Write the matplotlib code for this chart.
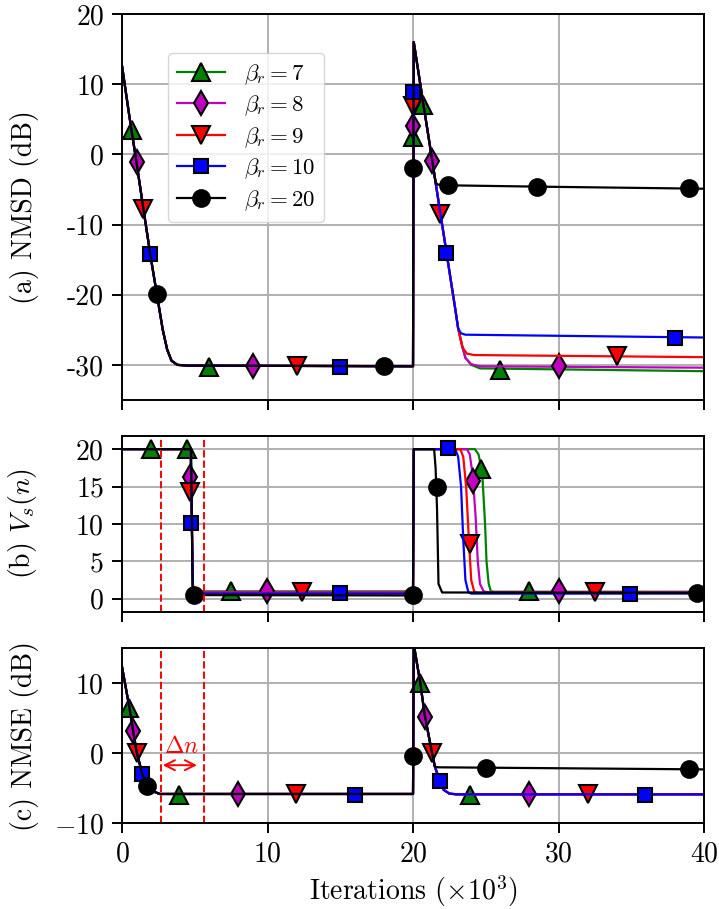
import numpy as np
import matplotlib
matplotlib.use('Agg')
import matplotlib.pyplot as plt

plt.rcParams['font.family'] = 'serif'
plt.rcParams['font.serif'] = ['cmr10']
plt.rcParams['mathtext.fontset'] = 'cm'
plt.rcParams['axes.formatter.use_mathtext'] = True
plt.rcParams['font.size'] = 20
plt.rcParams['axes.linewidth'] = 1.4

# series settings
betas = [7, 8, 9, 10, 20]
colors = ['g', 'm', 'r', 'b', 'k']
markers = ['^', 'd', 'v', 's', 'o']
msizes = [12.5, 12.5, 12.5, 10.5, 12]

# ---- (a) NMSD, line vertices (x in 10^3 iterations, dB)
nmsd_head_x = [0, 0.5, 1.0, 1.5, 2.0, 2.4, 2.8, 3.1, 3.4, 3.8, 4.5, 19.98, 20.0, 20.05,
               20.7, 21.3, 21.55]
nmsd_head_y = [12.6, 5.5, -1.2, -8.2, -15.0, -20.0, -25.0, -27.8, -29.4, -30.0, -30.1, -30.2,
               -30.2, 16.0, 7.3, -0.6, -4.0]
nmsd7_x = [21.85, 22.3, 22.9, 23.1, 23.4, 23.6, 24.0, 24.6, 40]
nmsd7_y = [-8.0, -14.0, -22.0, -24.8, -27.5, -29.0, -30.0, -30.5, -30.9]
nmsd8_x = [21.85, 22.3, 22.9, 23.1, 23.4, 23.6, 24.0, 24.6, 40]
nmsd8_y = [-8.0, -14.0, -22.0, -24.8, -27.5, -29.0, -29.9, -30.2, -30.4]
nmsd9_x = [21.85, 22.3, 22.9, 23.1, 23.4, 23.7, 24.2, 40]
nmsd9_y = [-8.0, -14.0, -22.0, -24.8, -27.5, -28.4, -28.6, -28.9]
nmsd10_x = [21.85, 22.3, 22.9, 23.1, 23.3, 23.6, 40]
nmsd10_y = [-8.0, -14.0, -22.0, -24.8, -25.5, -25.7, -26.1]
nmsd20_x = [21.7, 22.0, 28.5, 40]
nmsd20_y = [-4.3, -4.4, -4.6, -4.9]

# (a) marker positions
nmsd_mk_x = [[0.67, 6.0, 20.0, 20.7, 26.0],
             [1.0, 9.0, 20.0, 21.3, 30.0],
             [1.47, 12.0, 20.0, 21.85, 34.0],
             [1.92, 15.0, 20.0, 22.3, 38.0],
             [2.38, 18.0, 20.0, 22.4, 28.5, 39.0]]
nmsd_mk_y = [[3.5, -30.3, 2.5, 7.0, -30.7],
             [-1.1, -30.2, 4.0, -1.0, -30.2],
             [-7.8, -30.2, 6.9, -8.5, -28.7],
             [-14.2, -30.3, 8.9, -14.0, -26.1],
             [-19.9, -30.2, -2.0, -4.4, -4.6, -4.8]]

# ---- (b) V_s(n)
vs7_x = [0, 4.72, 4.80, 4.88, 5.0, 20.0, 20.05, 24.25, 24.5, 24.75, 24.95, 25.05, 25.2, 25.35, 25.6, 40]
vs7_y = [20, 20, 10, 1.2, 1.0, 1.0, 20, 20, 19.3, 17, 10, 5, 2, 1.0, 0.95, 0.95]
vs8_x = [0, 4.72, 4.80, 4.88, 5.0, 20.0, 20.05, 23.7, 23.9, 24.1, 24.3, 24.45, 24.6, 24.85, 25.1, 40]
vs8_y = [20, 20, 10, 1.2, 0.9, 0.9, 20, 20, 19.3, 16.5, 11, 5, 2, 1.0, 0.9, 0.9]
vs9_x = [0, 4.72, 4.80, 4.88, 5.0, 20.0, 20.05, 23.25, 23.45, 23.65, 23.85, 24.0, 24.2, 24.4, 40]
vs9_y = [20, 20, 10, 1.2, 0.8, 0.8, 20, 20, 19, 15, 7.5, 2.5, 1.0, 0.8, 0.8]
vs10_x = [0, 4.72, 4.80, 4.88, 5.0, 20.0, 20.05, 22.9, 23.1, 23.3, 23.45, 23.6, 23.8, 24.0, 40]
vs10_y = [20, 20, 10, 1.2, 0.7, 0.7, 20, 20, 19, 15, 8, 2.5, 0.9, 0.7, 0.7]
vs20_x = [0, 4.75, 4.85, 20.0, 20.05, 21.45, 21.55, 21.65, 21.75, 22.0, 40]
vs20_y = [20, 20, 0.5, 0.45, 20, 20, 17.5, 12, 2, 0.85, 0.8]

vs_mk_x = [[1.97, 4.5, 7.47, 24.7, 28.0],
           [4.67, 9.94, 24.15, 30.0],
           [4.67, 12.4, 23.9, 32.5],
           [4.74, 15.0, 22.4, 34.9],
           [4.95, 20.0, 21.63, 39.5]]
vs_mk_y = [[20, 20, 1.1, 17.3, 1.1],
           [16.3, 1.0, 15.8, 1.0],
           [14.3, 0.9, 7.3, 0.9],
           [10.1, 0.8, 20.1, 0.7],
           [0.45, 0.45, 15.0, 0.8]]

# ---- (c) NMSE
nmse_head_x = [0, 0.5, 1.0, 1.4, 1.75, 2.1, 2.6, 20.0, 20.05, 20.5, 20.8, 21.3, 21.5]
nmse_head_y = [12.3, 6.6, 0.2, -3.0, -4.7, -5.4, -5.8, -5.8, 15.5, 10.0, 5.5, 0.1, -1.9]
nmse_tail_x = [21.85, 22.1, 22.5, 23.0, 40]
nmse_tail_y = [-4.0, -5.2, -5.75, -5.85, -5.85]
nmse20_x = [21.7, 40]
nmse20_y = [-2.0, -2.3]

nmse_mk_x = [[0.5, 3.94, 20.5, 23.9],
             [0.74, 8.0, 20.8, 27.97],
             [1.05, 11.96, 21.3, 32.0],
             [1.39, 16.0, 21.85, 35.97],
             [1.74, 20.0, 25.0, 39.0]]
nmse_mk_y = [[6.4, -5.9, 10.0, -5.9],
             [3.1, -5.8, 5.2, -5.8],
             [0.0, -5.8, 0.1, -5.8],
             [-2.9, -5.9, -3.9, -5.9],
             [-4.6, -0.4, -2.05, -2.3]]

dn_lines = [2.66, 5.65]
nmsd_ticks = [-30, -20, -10, 0, 10, 20]
nmsd_ticklabels = ['-30', '-20', '-10', '0', '10', '20']

nmsd_tails = [(nmsd7_x, nmsd7_y), (nmsd8_x, nmsd8_y), (nmsd9_x, nmsd9_y),
              (nmsd10_x, nmsd10_y), (nmsd20_x, nmsd20_y)]
vs_lines = [(vs7_x, vs7_y), (vs8_x, vs8_y), (vs9_x, vs9_y), (vs10_x, vs10_y), (vs20_x, vs20_y)]

fig = plt.figure(figsize=(7.19, 9.09), dpi=100)
ax1 = fig.add_axes([0.1697, 0.5600, 0.8095, 0.4246])
ax2 = fig.add_axes([0.1697, 0.3264, 0.8095, 0.1943])
ax3 = fig.add_axes([0.1697, 0.0941, 0.8095, 0.1931])

for i in range(5):
    c = colors[i]
    mk = dict(marker=markers[i], markersize=msizes[i], markeredgecolor='k', markeredgewidth=1.5)
    # (a)
    tx, ty = nmsd_tails[i]
    ax1.plot(nmsd_head_x + tx, nmsd_head_y + ty, color=c, lw=1.6)
    ax1.plot(nmsd_mk_x[i], nmsd_mk_y[i], ls='none', color=c, **mk)
    ax1.plot([], [], color=c, lw=1.6, label=r'$\beta_r=%d$' % betas[i], **mk)
    # (b)
    bx, by = vs_lines[i]
    ax2.plot(bx, by, color=c, lw=1.6)
    ax2.plot(vs_mk_x[i], vs_mk_y[i], ls='none', color=c, **mk)
    # (c)
    if betas[i] == 20:
        cx, cy = nmse20_x, nmse20_y
    else:
        cx, cy = nmse_tail_x, nmse_tail_y
    ax3.plot(nmse_head_x + cx, nmse_head_y + cy, color=c, lw=1.6)
    ax3.plot(nmse_mk_x[i], nmse_mk_y[i], ls='none', color=c, **mk)

for ax in (ax2, ax3):
    for xv in dn_lines:
        ax.axvline(xv, color='r', ls='--', lw=1.4)

ax3.text(4.1, 0.9, r'$\Delta n$', color='r', ha='center', va='center', fontsize=17)
ax3.annotate('', xy=(2.8, -1.7), xytext=(5.15, -1.7),
             arrowprops=dict(arrowstyle='<->', color='r', lw=1.4, shrinkA=0, shrinkB=0,
                             mutation_scale=18))

ax1.set_ylim(-35, 20)
ax1.set_yticks(nmsd_ticks, nmsd_ticklabels)
ax2.set_ylim(-1.8, 21.8)
ax2.set_yticks([0, 5, 10, 15, 20])
ax3.set_ylim(-10, 15)
ax3.set_yticks([-10, 0, 10])

for ax in (ax1, ax2, ax3):
    ax.set_xlim(0, 40)
    ax.set_xticks([0, 10, 20, 30, 40])
    ax.grid(True, color='#b0b0b0', lw=1.4)
    ax.set_axisbelow(True)
    ax.tick_params(width=1.4, length=7, pad=6)
ax1.set_xticklabels([])
ax2.set_xticklabels([])

ax1.set_ylabel('(a) NMSD (dB)')
ax2.set_ylabel(r'(b) $V_s(n)$')
ax3.set_ylabel('(c) NMSE (dB)')
ax3.set_xlabel(r'Iterations ($\times 10^3$)', labelpad=4)
for ax in (ax1, ax2, ax3):
    ax.yaxis.set_label_coords(-0.142, 0.5)

ax1.legend(loc='upper left', bbox_to_anchor=(0.079, 0.899), borderaxespad=0, fontsize=16.5,
           handlelength=2.1, labelspacing=0.3)

fig.savefig('out.png', dpi=100)
